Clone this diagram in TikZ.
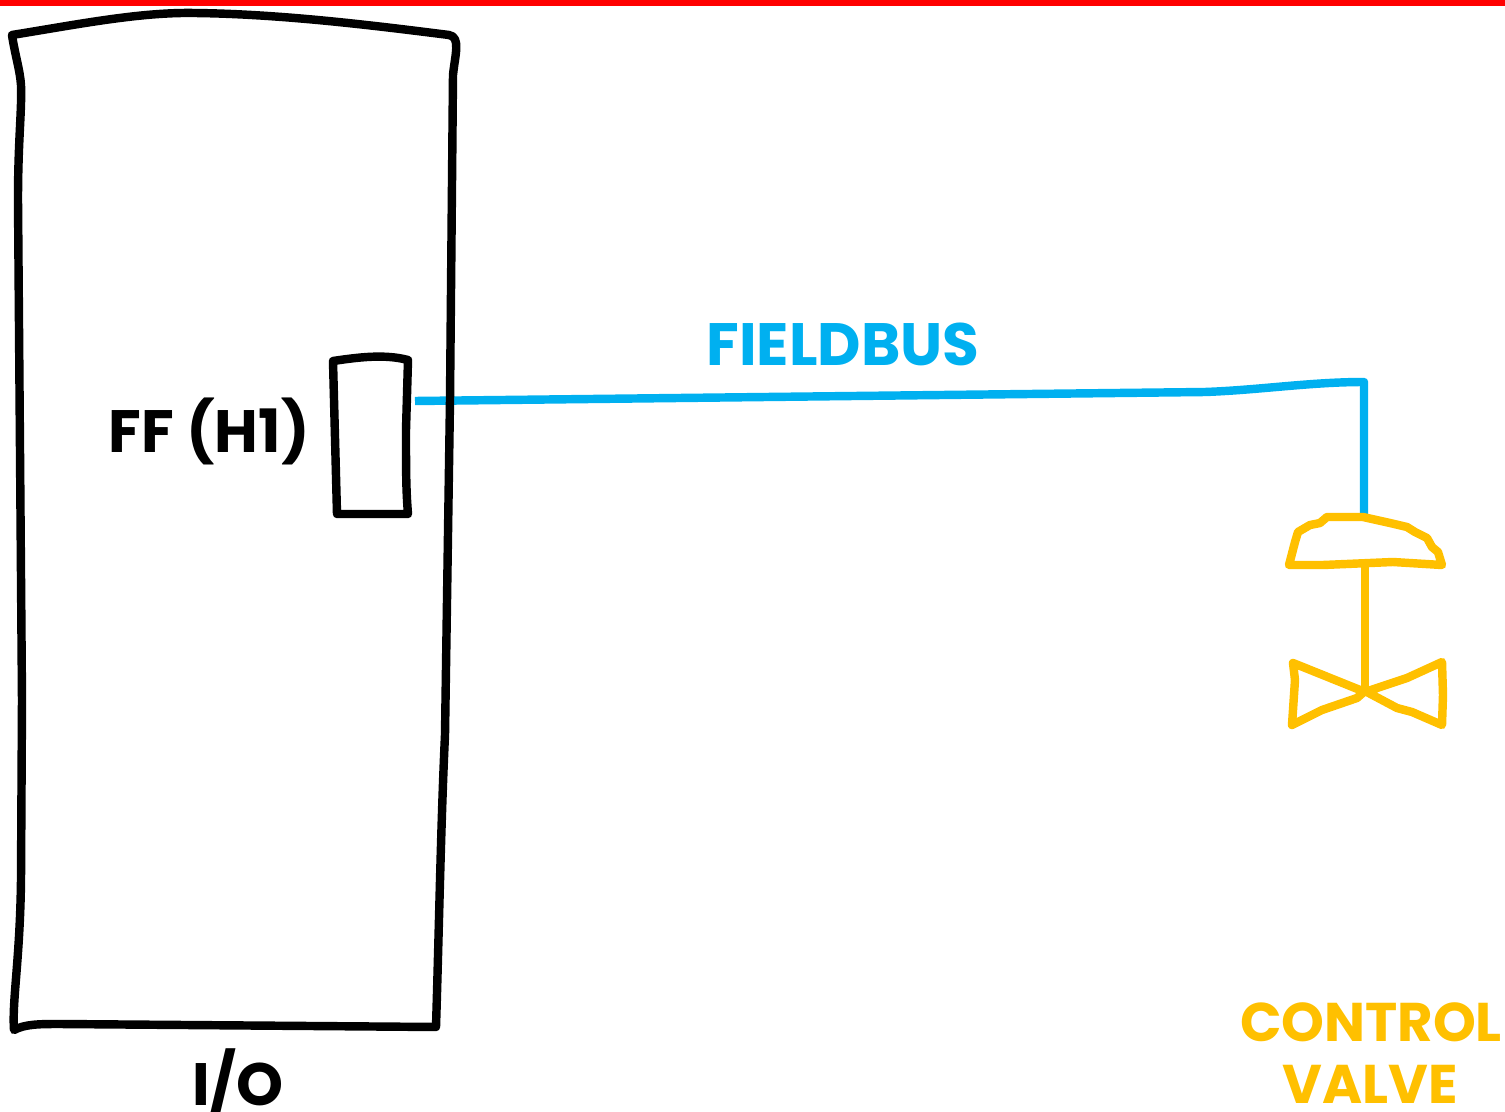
\documentclass[tikz,border=0pt]{standalone}
\usepackage{fontspec}
\setmainfont{Poppins}
\definecolor{busblue}{HTML}{00B0F0}
\definecolor{valveyellow}{HTML}{FFC000}
\tikzset{
  sketch/.style={line width=2.4pt, line cap=round, line join=round},
  label/.style={font=\fontsize{17}{17}\selectfont\bfseries, inner sep=0pt},
  valvelabel/.style={font=\fontsize{15.5}{15.5}\selectfont\bfseries, inner sep=0pt, valveyellow},
}
\begin{document}
\begin{tikzpicture}[x=0.01cm, y=-0.01cm]
\useasboundingbox (0,0) rectangle (1505,1112);
\fill[red] (0,0) rectangle (1505,6);
% fieldbus
\coordinate (port) at (415,401);
\coordinate (bend) at (1364,382);
\coordinate (valvetop) at (1364,516);
\draw[sketch, busblue, line cap=butt] (port) -- (1205,392) .. controls (1260,390) and (1310,382) .. (bend) -- (valvetop);
\node[label, busblue] (fieldbus) at (843,344) {FIELDBUS};
% I/O rack
\draw[sketch] (12,35) .. controls (80,24) and (140,12) .. (195,13) .. controls (280,14) and (370,25) .. (449,35)
  .. controls (461,37) and (455,55) .. (453,75) -- (450,400) -- (445,735) .. controls (441,820) and (439,930) .. (436,1027)
  -- (60,1024) .. controls (40,1024) and (25,1024) .. (14,1030) .. controls (12,1000) and (20,960) .. (21,880)
  -- (22,700) -- (18,200) .. controls (18,140) and (22,110) .. (21,85) .. controls (20,70) and (15,55) .. (12,35) -- cycle;
\node[label] (io) at (238,1083) {I/O};
% FF card
\draw[sketch] (333,361) .. controls (360,357) and (385,354) .. (408,360) -- (406,430) .. controls (406,470) and (406,490) .. (408,514)
  -- (337,514) -- (333,361) -- cycle;
\node[label] (ff) at (209,431) {FF (H1)};
% control valve
\draw[sketch, valveyellow] (1289,565) -- (1295,542) -- (1298,532) -- (1310,525) -- (1320,523) -- (1327,517) -- (1363,517) -- (1390,523) -- (1407,527) -- (1415,532) -- (1427,538) -- (1432,547) -- (1438,552) -- (1442,565)
  -- (1393,562) -- (1323,565) -- cycle;
\draw[sketch, valveyellow, line cap=butt] (1365,565) -- (1365,690);
\draw[sketch, valveyellow] (1293,663) -- (1365,692) -- (1407,678) -- (1442,662) -- (1443,695) -- (1442,725) -- (1412,712) -- (1397,708) -- (1365,691) -- (1357,698) -- (1322,710) -- (1292,725) -- (1295,680) -- cycle;
\node[valvelabel] (control) at (1371,1022) {CONTROL};
\node[valvelabel] (valve) at (1370,1084) {VALVE};
\end{tikzpicture}
\end{document}
